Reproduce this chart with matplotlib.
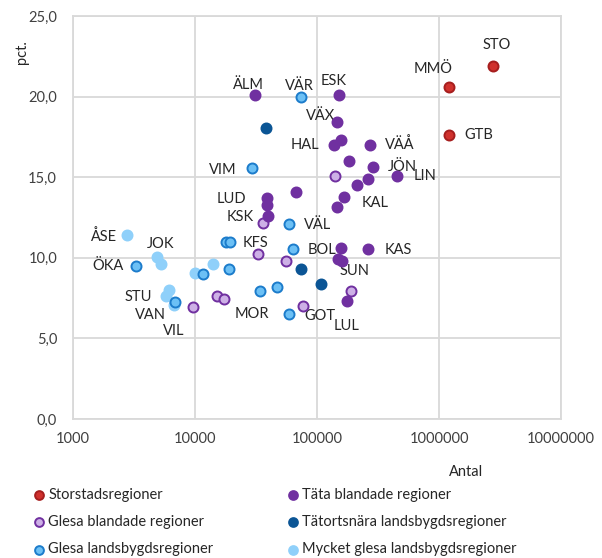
import numpy as np
import matplotlib.pyplot as plt
from matplotlib.ticker import FuncFormatter, FixedLocator

plt.rcParams['font.family'] = ['Lato', 'DejaVu Sans']

# data (Antal, pct.)
stor_x = [2770000, 1210000, 1210000]
stor_y = [21.9, 20.6, 17.6]

tata_x = [31000, 151000, 146000, 157000, 138000, 272000, 183000, 288000, 453000, 262000, 213000,
          166000, 146000, 67300, 38900, 38900, 39600, 157000, 262000, 149000, 160000, 176000]
tata_y = [20.1, 20.1, 18.4, 17.3, 17.0, 17.0, 16.0, 15.65, 15.05, 14.9, 14.5,
          13.8, 13.15, 14.1, 13.7, 13.3, 12.6, 10.6, 10.55, 9.9, 9.8, 7.35]

gbl_x = [141000, 36000, 32800, 55700, 15100, 17300, 9640, 76700, 190000]
gbl_y = [15.05, 12.15, 10.25, 9.8, 7.6, 7.45, 6.95, 7.0, 7.95]

tatort_x = [38200, 74000, 108000]
tatort_y = [18.05, 9.3, 8.4]

glb_x = [74000, 29300, 58900, 63500, 17900, 19400, 19000, 11600, 34100, 47000, 58900, 3280, 6850]
glb_y = [20.0, 15.55, 12.1, 10.55, 10.95, 11.0, 9.3, 9.0, 7.95, 8.2, 6.5, 9.5, 7.25]

myk_x = [2770, 4890, 5260, 6120, 5780, 6730, 10000, 14100]
myk_y = [11.4, 10.05, 9.6, 8.0, 7.6, 7.05, 9.05, 9.6]

groups = {
    'stor': (stor_x, stor_y, 'Storstadsregioner', '#D0312D', '#A61E1E'),
    'gbl': (gbl_x, gbl_y, 'Glesa blandade regioner', '#CDB0E6', '#7030A0'),
    'glb': (glb_x, glb_y, 'Glesa landsbygdsregioner', '#6CC0F5', '#1C7CCB'),
    'tata': (tata_x, tata_y, 'Täta blandade regioner', '#7030A0', '#7030A0'),
    'tatort': (tatort_x, tatort_y, 'Tätortsnära landsbygdsregioner', '#0B5595', '#0B5595'),
    'myk': (myk_x, myk_y, 'Mycket glesa landsbygdsregioner', '#8FD0FA', '#8FD0FA'),
}

# (group, index, text, dx px, dy px)
labels = [
    ('stor', 0, 'STO', 4, 21), ('stor', 1, 'MMÖ', -16, 18), ('stor', 2, 'GTB', 30, 0),
    ('tata', 0, 'ÄLM', -7, 10), ('glb', 0, 'VÄR', -2, 11), ('tata', 1, 'ESK', -5, 14),
    ('tata', 2, 'VÄX', -17, 6), ('tata', 4, 'HAL', -29, 0), ('tata', 5, 'VÄÅ', 30, 0),
    ('tata', 7, 'JÖN', 29, 0), ('tata', 8, 'LIN', 28, 0), ('tata', 11, 'KAL', 31, -6),
    ('glb', 1, 'VIM', -29, -2), ('tata', 14, 'LUD', -36, -1), ('tata', 16, 'KSK', -28, -1),
    ('glb', 2, 'VÄL', 29, -1), ('glb', 5, 'KFS', 25, -1), ('glb', 3, 'BOL', 29, -1),
    ('tata', 18, 'KAS', 30, -1), ('tata', 20, 'SUN', 13, -10), ('gbl', 7, 'GOT', 17, -10),
    ('tata', 21, 'LUL', 0, -25), ('glb', 10, 'MOR', -37, 0), ('myk', 0, 'ÅSE', -24, -1),
    ('myk', 1, 'JOK', 3, 13), ('glb', 11, 'ÖKA', -28, 0), ('myk', 4, 'STU', -28, -1),
    ('glb', 12, 'VAN', -25, -13), ('myk', 5, 'VIL', 0, -26),
]

fig = plt.figure(figsize=(6.02, 5.58), dpi=100)
ax = fig.add_axes([0.1213, 0.249, 0.8107, 0.7225])

handles = []
for z, key in enumerate(['myk', 'glb', 'tatort', 'gbl', 'tata', 'stor']):
    gx, gy, name, fc, ec = groups[key]
    ax.scatter(gx, gy, s=52, facecolor=fc, edgecolor=ec, linewidth=1.4, zorder=3 + z)

for key in ['stor', 'gbl', 'glb', 'tata', 'tatort', 'myk']:
    gx, gy, name, fc, ec = groups[key]
    h = ax.scatter([], [], s=40, facecolor=fc, edgecolor=ec, linewidth=1.4, label=name)
    handles.append(h)

for key, i, txt, dx, dy in labels:
    gx, gy = groups[key][0], groups[key][1]
    if key == 'stor' and i == 0:
        ax.annotate(txt, (gx[i], gy[i]), xytext=(dx, dy), textcoords='offset pixels',
                    ha='center', va='center', fontsize=10.5, color='#262626',
                    arrowprops=dict(arrowstyle='-', color='#A6A6A6', lw=0.8, shrinkA=7, shrinkB=4))
    else:
        ax.annotate(txt, (gx[i], gy[i]), xytext=(dx, dy), textcoords='offset pixels',
                    ha='center', va='center', fontsize=10.5, color='#262626')

ax.set_xscale('log')
ax.set_xlim(1000, 10000000)
ax.set_ylim(0, 25)
ax.xaxis.set_major_locator(FixedLocator([1000, 10000, 100000, 1000000, 10000000]))
ax.xaxis.set_minor_locator(FixedLocator([]))
ax.xaxis.set_major_formatter(FuncFormatter(lambda v, p: '%d' % round(v)))
ax.set_yticks([0, 5, 10, 15, 20, 25])
ax.yaxis.set_major_formatter(FuncFormatter(lambda v, p: ('%.1f' % v).replace('.', ',')))
ax.grid(True, color='#D9D9D9', linewidth=1.3, zorder=0)
ax.set_axisbelow(True)
for sp in ax.spines.values():
    sp.set_color('#D9D9D9')
    sp.set_linewidth(1.3)
ax.tick_params(length=0, labelsize=10.5, colors='#404040')
ax.tick_params(axis='y', pad=11.5)
ax.tick_params(axis='x', pad=9)

fig.text(22 / 602, 1 - 52 / 558, 'pct.', rotation=90, ha='center', va='center', fontsize=10.5, color='#262626')
fig.text(466 / 602, 1 - 472 / 558, 'Antal', ha='center', va='center', fontsize=10.5, color='#262626')

fig.legend(handles=handles, ncol=2, loc='upper left', bbox_to_anchor=(0.028, 1 - 475 / 558),
           frameon=False, fontsize=10.5, handletextpad=0.05, columnspacing=4.85,
           labelspacing=0.9, handlelength=1.2, labelcolor='#262626')

plt.savefig('out.png', dpi=100)
